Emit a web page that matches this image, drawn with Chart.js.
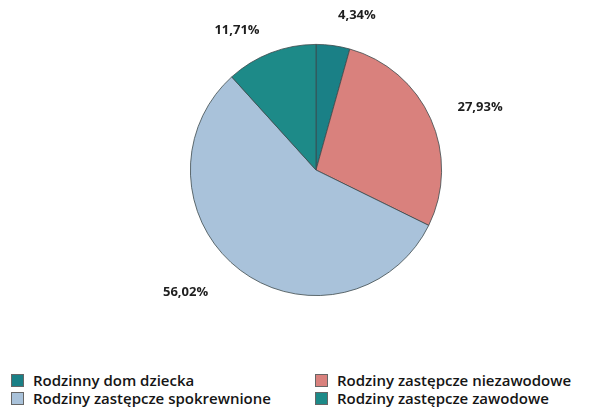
<!DOCTYPE html>
<html>
<head>
	<meta charset="utf-8">
	<title>Rodziny</title>
	<script src="https://cdn.jsdelivr.net/npm/chart.js"></script>
	<style>
		body { margin: 0; padding: 0; background: #fff; font-family: "Open Sans", "DejaVu Sans", sans-serif; }
		.wrap { position: relative; width: 594px; height: 407px; }
		.chart-box { position: absolute; left: 0; top: 0; width: 594px; height: 340px; }
		.legend { position: absolute; left: 11px; top: 371px; width: 583px; display: grid;
			grid-template-columns: 304px 279px; row-gap: 0px; font-size: 15px; font-weight: 600; color: #151515; }
		.legend span.sw { display: inline-block; width: 13px; height: 13px; margin-right: 9px; vertical-align: -1px; border: 1px solid #666; box-sizing: border-box; }
		.legend div { height: 18px; line-height: 18px; white-space: nowrap; }
	</style>
</head>
<body>
	<div class="wrap">
		<div class="chart-box"><canvas id="pieChart"></canvas></div>
		<div class="legend" id="legend"></div>
	</div>
	<script>
		var labels = ['Rodzinny dom dziecka', 'Rodziny zastępcze niezawodowe', 'Rodziny zastępcze spokrewnione', 'Rodziny zastępcze zawodowe'];
		var values = [4.34, 27.93, 56.02, 11.71];
		var valueText = ['4,34%', '27,93%', '56,02%', '11,71%'];
		var colors = ['#1a8086', '#d9817d', '#a9c2da', '#1d8a88'];

		var outsideLabels = {
			id: 'outsideLabels',
			afterDatasetsDraw: function(chart) {
				var ctx = chart.ctx;
				var meta = chart.getDatasetMeta(0);
				ctx.save();
				ctx.font = 'bold 13px "Open Sans", "DejaVu Sans", sans-serif';
				ctx.fillStyle = '#1e1e1e';
				ctx.textAlign = 'center';
				ctx.textBaseline = 'middle';
				// small nudges so the labels sit where the original put them
				var shift = [0.1, 0.02, 0.12, -0.1];
				var extra = [0, 0, 10, -3];
				meta.data.forEach(function(arc, i) {
					var mid = (arc.startAngle + arc.endAngle) / 2 + shift[i];
					var w = ctx.measureText(valueText[i]).width;
					var r = arc.outerRadius + 30 + extra[i];
					var dx = Math.cos(mid), dy = Math.sin(mid);
					var x = arc.x + dx * r + dx * w / 2;
					var y = arc.y + dy * r + dy * 4;
					ctx.fillText(valueText[i], x, y);
				});
				ctx.restore();
			}
		};

		var ctx = document.getElementById('pieChart').getContext('2d');
		var chart = new Chart(ctx, {
			type: 'pie',
			data: {
				labels: labels,
				datasets: [{
					data: values,
					backgroundColor: colors,
					borderColor: '#3d4a4c',
					borderWidth: 0.8
				}]
			},
			options: {
				responsive: true,
				maintainAspectRatio: false,
				animation: false,
				layout: { padding: { top: 44, bottom: 44, left: 38, right: 0 } },
				plugins: {
					legend: { display: false },
					tooltip: { enabled: false }
				}
			},
			plugins: [outsideLabels]
		});

		var legend = document.getElementById('legend');
		[0, 1, 2, 3].forEach(function(i) {
			var d = document.createElement('div');
			d.innerHTML = '<span class="sw" style="background:' + colors[i] + '"></span>' + labels[i];
			legend.appendChild(d);
		});
	</script>
</body>
</html>
